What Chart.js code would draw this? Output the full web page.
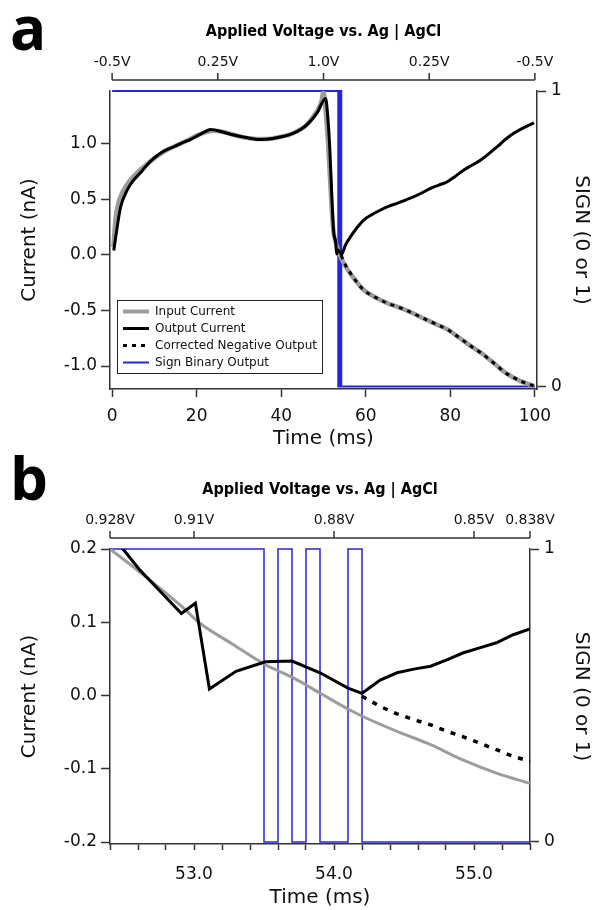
<!DOCTYPE html>
<html lang="en">
<head>
<meta charset="UTF-8">
<title>Input / output current and sign output</title>
<script src="https://cdn.jsdelivr.net/npm/chart.js"></script>
<style>
  body { margin: 0; background: #fff; }
  .panel { position: absolute; left: 0; width: 601px; height: 455px; }
</style>
</head>
<body>
<canvas id="chartA" class="panel" width="601" height="455" style="top:0"></canvas>
<canvas id="chartB" class="panel" width="601" height="455" style="top:455px"></canvas>
<script>
// ---- panel a ----
const voltTimesA = [0, 25, 50, 75, 100];
const voltLabelsA = ['-0.5V', '0.25V', '1.0V', '0.25V', '-0.5V'];
const timeTicksA = [0, 20, 40, 60, 80, 100];
const currentTicksA = [1.0, 0.5, 0.0, -0.5, -1.0];

const inTimeA = [0.3, 0.8, 1.5, 2.5, 4, 6, 8, 10, 12, 14, 16, 18, 20, 22, 24, 26, 28, 30, 32, 34, 36, 38, 40, 42, 44, 46, 48, 49.5, 50, 50.5, 51, 51.5, 52, 52.4, 53, 53.5, 53.9, 54.2, 55.2, 56.4, 58, 59.5, 61.5, 63.5, 65.5, 67.4, 69.4, 71.4, 73.3, 75.3, 77.3, 79.3, 81.2, 83.2, 85.2, 87.2, 89.2, 91.1, 93, 95, 97.5, 99.8];
const inCurrentA = [0.07, 0.32, 0.47, 0.57, 0.66, 0.745, 0.81, 0.87, 0.925, 0.965, 1.0, 1.035, 1.075, 1.105, 1.12, 1.11, 1.09, 1.07, 1.055, 1.045, 1.045, 1.05, 1.065, 1.085, 1.12, 1.17, 1.27, 1.38, 1.47, 1.3, 1.05, 0.72, 0.38, 0.2, 0.1, 0.042, 0.0, -0.03, -0.1, -0.17, -0.25, -0.315, -0.365, -0.405, -0.44, -0.465, -0.495, -0.53, -0.565, -0.6, -0.635, -0.67, -0.72, -0.775, -0.83, -0.88, -0.94, -1.0, -1.06, -1.105, -1.15, -1.18];

const outTimeA = [0.4, 1, 2, 3.5, 5, 6.7, 8, 9.8, 12, 14.6, 16.5, 18.5, 21, 23.3, 26, 28.8, 32, 35.1, 38, 40.6, 42.5, 44.6, 46.5, 48.5, 50.5, 51, 51.5, 52, 52.4, 52.9, 53.1, 53.5, 53.9, 54.2, 55.2, 56.4, 58, 59.5, 61.5, 63.5, 65.5, 67.4, 69.4, 71.4, 73.3, 75.3, 77.3, 79.3, 81.2, 83.2, 85.2, 87.2, 89.2, 91.1, 93, 95, 97.5, 99.8];
const outCurrentA = [0.04, 0.2, 0.43, 0.58, 0.67, 0.74, 0.8, 0.87, 0.93, 0.975, 1.01, 1.04, 1.09, 1.13, 1.11, 1.08, 1.055, 1.04, 1.05, 1.07, 1.09, 1.13, 1.19, 1.28, 1.41, 1.25, 0.95, 0.5, 0.21, 0.11, 0.01, 0.046, 0.03, 0.003, 0.09, 0.165, 0.25, 0.315, 0.365, 0.405, 0.44, 0.465, 0.495, 0.525, 0.56, 0.6, 0.63, 0.66, 0.71, 0.766, 0.81, 0.856, 0.915, 0.975, 1.04, 1.096, 1.15, 1.19];

const corrTimeA = [54.2, 55.2, 56.4, 58, 59.5, 61.5, 63.5, 65.5, 67.4, 69.4, 71.4, 73.3, 75.3, 77.3, 79.3, 81.2, 83.2, 85.2, 87.2, 89.2, 91.1, 93, 95, 97.5, 99.8];
const corrCurrentA = [-0.003, -0.09, -0.165, -0.25, -0.315, -0.365, -0.405, -0.44, -0.465, -0.495, -0.53, -0.565, -0.6, -0.635, -0.67, -0.72, -0.775, -0.83, -0.88, -0.94, -1.0, -1.06, -1.105, -1.15, -1.18];

const signTimeA = [0, 53.5, 53.6, 53.7, 53.8, 53.9, 54.1, 54.2, 100];
const signA = [1, 0, 1, 0, 1, 0, 1, 0, 0];

// ---- panel b ----
const voltTimesB = [52.4, 53.0, 54.0, 55.0, 55.4];
const voltLabelsB = ['0.928V', '0.91V', '0.88V', '0.85V', '0.838V'];
const timeTicksB = [52.4, 52.6, 52.8, 53.0, 53.2, 53.4, 53.6, 53.8, 54.0, 54.2, 54.4, 54.6, 54.8, 55.0, 55.2, 55.4];
const timeLabelsB = ['', '', '', '53.0', '', '', '', '', '54.0', '', '', '', '', '55.0', '', ''];
const currentTicksB = [0.2, 0.1, 0.0, -0.1, -0.2];

const inTimeB = [52.4, 52.61, 52.91, 53.04, 53.26, 53.51, 53.71, 53.92, 54.11, 54.21, 54.45, 54.69, 54.92, 55.16, 55.4];
const inCurrentB = [0.2, 0.169, 0.122, 0.099, 0.072, 0.042, 0.024, 0.001, -0.0195, -0.029, -0.049, -0.067, -0.088, -0.106, -0.12];

const outTimeB = [52.4, 52.61, 52.91, 53.01, 53.11, 53.3, 53.51, 53.7, 53.9, 54.1, 54.2, 54.33, 54.45, 54.57, 54.69, 54.81, 54.92, 55.04, 55.16, 55.28, 55.4];
const outCurrentB = [0.222, 0.172, 0.112, 0.126, 0.009, 0.033, 0.046, 0.047, 0.031, 0.01, 0.003, 0.021, 0.031, 0.036, 0.040, 0.049, 0.058, 0.065, 0.072, 0.083, 0.091];

const corrTimeB = [54.2, 54.33, 54.45, 54.57, 54.69, 54.81, 54.92, 55.04, 55.16, 55.28, 55.4];
const corrCurrentB = [-0.001, -0.015, -0.025, -0.033, -0.040, -0.049, -0.056, -0.065, -0.074, -0.083, -0.090];

const signTimeB = [52.4, 53.5, 53.6, 53.7, 53.8, 53.9, 54.1, 54.2, 55.4];
const signB = [1, 0, 1, 0, 1, 0, 1, 0, 0];

const GRAY = '#9c9c9c';
const BLUE = '#2525dc';
const AXIS = '#333';
const FONT = 'DejaVu Sans';

function pts(xs, ys) {
  return xs.map((x, i) => ({ x: x, y: ys[i] }));
}

// draws the letter, the voltage axis above the plot and (optionally) the legend box
function makeDecor(cfg) {
  return {
    id: 'decor' + cfg.letter,
    afterDraw(chart) {
      const ctx = chart.ctx;
      const x = chart.scales.x;
      const area = chart.chartArea;
      ctx.save();
      ctx.fillStyle = '#000';
      ctx.textAlign = 'left';
      ctx.textBaseline = 'alphabetic';
      ctx.font = 'bold 60px "Open Sans"';
      ctx.fillText(cfg.letter, 10, cfg.letterY);

      ctx.textAlign = 'center';
      ctx.textBaseline = 'middle';
      ctx.font = 'bold 16px "DejaVu Sans Condensed"';
      ctx.fillText('Applied Voltage vs. Ag | AgCl', (area.left + area.right) / 2, cfg.titleY);

      const x0 = x.getPixelForValue(cfg.times[0]);
      const x1 = x.getPixelForValue(cfg.times[cfg.times.length - 1]);
      ctx.strokeStyle = AXIS;
      ctx.lineWidth = 1.5;
      ctx.beginPath();
      ctx.moveTo(x0, cfg.lineY);
      ctx.lineTo(x1, cfg.lineY);
      cfg.times.forEach(t => {
        const px = x.getPixelForValue(t);
        ctx.moveTo(px, cfg.lineY);
        ctx.lineTo(px, cfg.lineY - 7);
      });
      ctx.stroke();
      ctx.font = '14px "' + FONT + '"';
      ctx.fillStyle = '#111';
      cfg.labels.forEach((l, i) => ctx.fillText(l, x.getPixelForValue(cfg.times[i]), cfg.lineY - 18));

      if (cfg.legend) {
        const b = cfg.legend;
        ctx.fillStyle = '#fff';
        ctx.fillRect(b.x, b.y, b.w, b.h);
        ctx.strokeStyle = '#222';
        ctx.lineWidth = 1;
        ctx.strokeRect(b.x + 0.5, b.y + 0.5, b.w, b.h);
        ctx.font = '12px "' + FONT + '"';
        ctx.textAlign = 'left';
        cfg.legendOrder.forEach((di, i) => {
          const ds = chart.data.datasets[di];
          const y = b.y + 11.5 + i * 17;
          ctx.strokeStyle = ds.borderColor;
          ctx.lineWidth = Math.min(ds.borderWidth, 4);
          ctx.setLineDash(ds.borderDash || []);
          ctx.beginPath();
          ctx.moveTo(b.x + 6, y);
          ctx.lineTo(b.x + 32, y);
          ctx.stroke();
          ctx.setLineDash([]);
          ctx.fillStyle = '#111';
          ctx.fillText(ds.label, b.x + 38, y + 0.5);
        });
      }
      ctx.restore();
    }
  };
}

function tickFont() { return { family: FONT, size: 17 }; }
function titleFont() { return { family: FONT, size: 20 }; }

function axisGrid(len) {
  return { drawOnChartArea: false, drawTicks: true, tickLength: len, tickColor: AXIS, tickWidth: 1.5 };
}
const axisBorder = { display: true, color: AXIS, width: 1.5 };

// ---------- chart a ----------
new Chart(document.getElementById('chartA'), {
  type: 'line',
  data: {
    datasets: [
      { label: 'Corrected Negative Output', data: pts(corrTimeA, corrCurrentA), borderColor: '#000', borderWidth: 3, borderDash: [4, 5], cubicInterpolationMode: 'monotone', pointRadius: 0, yAxisID: 'y', order: 1 },
      { label: 'Output Current', data: pts(outTimeA, outCurrentA), borderColor: '#000', borderWidth: 3, cubicInterpolationMode: 'monotone', pointRadius: 0, yAxisID: 'y', order: 2 },
      { label: 'Input Current', data: pts(inTimeA, inCurrentA), borderColor: GRAY, borderWidth: 4.5, cubicInterpolationMode: 'monotone', pointRadius: 0, yAxisID: 'y', order: 3 },
      { label: 'Sign Binary Output', data: pts(signTimeA, signA), borderColor: BLUE, borderWidth: 2, stepped: 'before', pointRadius: 0, yAxisID: 'y2', order: 4, clip: 3 }
    ]
  },
  options: {
    responsive: false,
    animation: false,
    devicePixelRatio: 1,
    events: [],
    layout: { padding: { top: 91, left: 0, right: 0, bottom: 0 } },
    plugins: { legend: { display: false }, tooltip: { enabled: false } },
    scales: {
      x: {
        type: 'linear', min: -0.5, max: 100.5,
        afterBuildTicks: s => { s.ticks = timeTicksA.map(v => ({ value: v })); },
        afterFit: s => { s.height = 66; },
        grid: axisGrid(8), border: axisBorder,
        ticks: { color: '#111', font: tickFont(), padding: 9, maxRotation: 0, autoSkip: false, callback: v => String(v) },
        title: { display: true, text: 'Time (ms)', color: '#111', font: titleFont(), padding: { top: 0, bottom: 4 } }
      },
      y: {
        position: 'left', min: -1.207, max: 1.477,
        afterBuildTicks: s => { s.ticks = currentTicksA.map(v => ({ value: v })); },
        afterFit: s => { s.width = 110; },
        grid: axisGrid(9), border: axisBorder,
        ticks: { color: '#111', font: tickFont(), padding: 4, callback: v => v.toFixed(1) },
        title: { display: true, text: 'Current (nA)', color: '#111', font: titleFont(), padding: { top: 18, bottom: 0 } }
      },
      y2: {
        position: 'right', min: -0.0085, max: 1,
        afterBuildTicks: s => { s.ticks = [0, 1].map(v => ({ value: v })); },
        afterFit: s => { s.width = 64; },
        grid: axisGrid(9), border: axisBorder,
        ticks: { color: '#111', font: tickFont(), padding: 5, callback: v => String(v) },
        title: { display: true, text: 'SIGN (0 or 1)', color: '#111', font: titleFont(), padding: { top: 8, bottom: 0 } }
      }
    }
  },
  plugins: [makeDecor({
    letter: 'a', letterY: 50, titleY: 32, lineY: 80,
    times: voltTimesA, labels: voltLabelsA,
    legend: { x: 117, y: 300, w: 205, h: 73 },
    legendOrder: [2, 1, 0, 3]
  })]
});

// ---------- chart b ----------
new Chart(document.getElementById('chartB'), {
  type: 'line',
  data: {
    datasets: [
      { label: 'Corrected Negative Output', data: pts(corrTimeB, corrCurrentB), borderColor: '#000', borderWidth: 3.5, borderDash: [5, 7], pointRadius: 0, tension: 0, yAxisID: 'y', order: 1, clip: 1 },
      { label: 'Output Current', data: pts(outTimeB, outCurrentB), borderColor: '#000', borderWidth: 3, pointRadius: 0, tension: 0, yAxisID: 'y', order: 2, clip: 0 },
      { label: 'Input Current', data: pts(inTimeB, inCurrentB), borderColor: GRAY, borderWidth: 3, cubicInterpolationMode: 'monotone', pointRadius: 0, yAxisID: 'y', order: 3, clip: 0 },
      { label: 'Sign Binary Output', data: pts(signTimeB, signB), borderColor: BLUE, borderWidth: 1.5, stepped: 'before', pointRadius: 0, yAxisID: 'y2', order: 4, clip: 3 }
    ]
  },
  options: {
    responsive: false,
    animation: false,
    devicePixelRatio: 1,
    events: [],
    layout: { padding: { top: 94, left: 0, right: 0, bottom: 0 } },
    plugins: { legend: { display: false }, tooltip: { enabled: false } },
    scales: {
      x: {
        type: 'linear', min: 52.4, max: 55.4,
        afterBuildTicks: s => { s.ticks = timeTicksB.map(v => ({ value: v })); },
        afterFit: s => { s.height = 66; },
        grid: axisGrid(6), border: axisBorder,
        ticks: { color: '#111', font: tickFont(), padding: 14, maxRotation: 0, autoSkip: false, callback: (v, i) => timeLabelsB[i] },
        title: { display: true, text: 'Time (ms)', color: '#111', font: titleFont(), padding: { top: 0, bottom: 0 } }
      },
      y: {
        position: 'left', min: -0.2027, max: 0.2,
        afterBuildTicks: s => { s.ticks = currentTicksB.map(v => ({ value: v })); },
        afterFit: s => { s.width = 110; },
        grid: axisGrid(9), border: axisBorder,
        ticks: { color: '#111', font: tickFont(), padding: 4, callback: v => v.toFixed(1) },
        title: { display: true, text: 'Current (nA)', color: '#111', font: titleFont(), padding: { top: 18, bottom: 0 } }
      },
      y2: {
        position: 'right', min: -0.007, max: 1,
        afterBuildTicks: s => { s.ticks = [0, 1].map(v => ({ value: v })); },
        afterFit: s => { s.width = 71; },
        grid: axisGrid(9), border: axisBorder,
        ticks: { color: '#111', font: tickFont(), padding: 5, callback: v => String(v) },
        title: { display: true, text: 'SIGN (0 or 1)', color: '#111', font: titleFont(), padding: { top: 8, bottom: 0 } }
      }
    }
  },
  plugins: [makeDecor({
    letter: 'b', letterY: 45, titleY: 35, lineY: 83,
    times: voltTimesB, labels: voltLabelsB
  })]
});
</script>
</body>
</html>
